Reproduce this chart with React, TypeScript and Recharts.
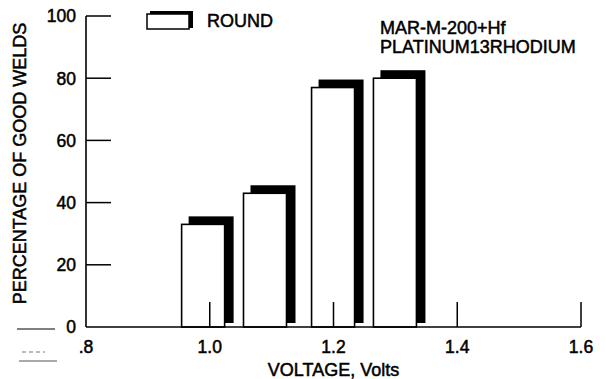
import React from 'react';
import {
  ComposedChart,
  Bar,
  XAxis,
  YAxis,
  Legend,
  Label,
  Customized,
} from 'recharts';

// weld yield vs. electrode voltage
const VOLTAGE = [0.99, 1.09, 1.2, 1.3];
const GOOD_WELDS_PCT = [33, 43, 77, 80];

const Y_TICKS = [0, 20, 40, 60, 80, 100];
const X_TICKS = [0.8, 1.0, 1.2, 1.4, 1.6];
const X_TICK_LABELS = ['.8', '1.0', '1.2', '1.4', '1.6'];
const NOTE_LINES = ['MAR-M-200+Hf', 'PLATINUM13RHODIUM'];
const SERIES_NAME = 'ROUND';

const data = VOLTAGE.map((v, i) => ({ voltage: v, pct: GOOD_WELDS_PCT[i] }));

const FONT = '"Liberation Sans", Arial, sans-serif';
const INK = '#000';
const TICK_LEN = 25;
const Y_TICK_GAP = 10;

const textStyle = {
  fontFamily: FONT,
  fontSize: 18,
  fill: INK,
  stroke: INK,
  strokeWidth: 0.5,
};

const tickText = { ...textStyle, fontSize: 17.5 };

// white box with a heavy black drop shadow up and to the right
const ShadowBar = (props: any) => {
  const { x, y, width, height } = props;
  if (!height) return null;
  return (
    <g>
      <rect x={x + 7} y={y - 8} width={width + 2} height={height + 4} fill={INK} />
      <rect
        x={x}
        y={y}
        width={width}
        height={height}
        fill="#fff"
        stroke={INK}
        strokeWidth={1.6}
      />
    </g>
  );
};

const YTick = (props: any) => {
  const { x, y, payload } = props;
  const axisX = x + Y_TICK_GAP;
  return (
    <g>
      {payload.value > 0 && (
        <line x1={axisX} x2={axisX + TICK_LEN} y1={y} y2={y} stroke={INK} strokeWidth={1.5} />
      )}
      <text x={x} y={y} dy="0.36em" textAnchor="end" {...tickText}>
        {payload.value}
      </text>
    </g>
  );
};

const XTick = (props: any) => {
  const { x, y, index } = props;
  return (
    <g>
      {index > 0 && (
        <line x1={x} x2={x} y1={y} y2={y - TICK_LEN} stroke={INK} strokeWidth={1.5} />
      )}
      <text x={x} y={y + 20} dy="0.36em" textAnchor="middle" {...tickText}>
        {X_TICK_LABELS[index]}
      </text>
    </g>
  );
};

const LegendBox = (props: any) => {
  const item = props.payload?.[0];
  return (
    <svg width={150} height={30}>
      <rect x={5} y={3} width={43} height={17} fill={INK} />
      <rect x={2} y={6} width={42} height={15} fill="#fff" stroke={INK} strokeWidth={1.5} />
      <text x={62} y={13} dy="0.36em" {...textStyle}>
        {item ? item.value : SERIES_NAME}
      </text>
    </svg>
  );
};

// alloy note plus the stray rule marks in the lower left corner
const Notes = () => (
  <g>
    {NOTE_LINES.map((t, i) => (
      <text key={t} x={380} y={28 + i * 19} dy="0.36em" {...textStyle}>
        {t}
      </text>
    ))}
    <line x1={17} x2={55} y1={329} y2={329} stroke={INK} strokeWidth={1} />
    <line x1={22} x2={45} y1={352} y2={352} stroke="#777" strokeWidth={1} strokeDasharray="4 3" />
    <line x1={19} x2={57} y1={361} y2={361} stroke="#555" strokeWidth={1} />
  </g>
);

const YTitle = (props: any) => {
  const { viewBox } = props;
  const cx = 20;
  const cy = viewBox.y + viewBox.height / 2 - 8;
  return (
    <text
      x={cx}
      y={cy}
      dy="0.36em"
      textAnchor="middle"
      transform={`rotate(-90 ${cx} ${cy})`}
      {...textStyle}
    >
      PERCENTAGE OF GOOD WELDS
    </text>
  );
};

export default function App() {
  return (
    <div style={{ position: 'absolute', left: 0, top: 0, background: '#fff' }}>
      <ComposedChart
        width={606}
        height={379}
        data={data}
        margin={{ top: 16, right: 25, bottom: 0, left: 0 }}
      >
        <XAxis
          dataKey="voltage"
          type="number"
          domain={[0.8, 1.6]}
          ticks={X_TICKS}
          allowDataOverflow
          height={52}
          tickSize={0}
          tickMargin={0}
          tickLine={false}
          axisLine={{ stroke: INK, strokeWidth: 1.6 }}
          tick={<XTick />}
          interval={0}
        >
          <Label
            value="VOLTAGE, Volts"
            position="insideBottom"
            offset={3}
            style={{ ...textStyle, textAnchor: 'middle' }}
          />
        </XAxis>
        <YAxis
          type="number"
          domain={[0, 100]}
          ticks={Y_TICKS}
          width={86}
          tickSize={0}
          tickMargin={Y_TICK_GAP}
          tickLine={false}
          axisLine={{ stroke: INK, strokeWidth: 1.6 }}
          tick={<YTick />}
          interval={0}
        >
          <Label content={<YTitle />} />
        </YAxis>
        <Legend
          layout="vertical"
          align="center"
          verticalAlign="middle"
          content={<LegendBox />}
          wrapperStyle={{ position: 'absolute', left: 145, top: 8, width: 150 }}
        />
        <Bar
          dataKey="pct"
          name={SERIES_NAME}
          barSize={43}
          shape={<ShadowBar />}
          isAnimationActive={false}
        />
        <Customized component={Notes} />
      </ComposedChart>
    </div>
  );
}
